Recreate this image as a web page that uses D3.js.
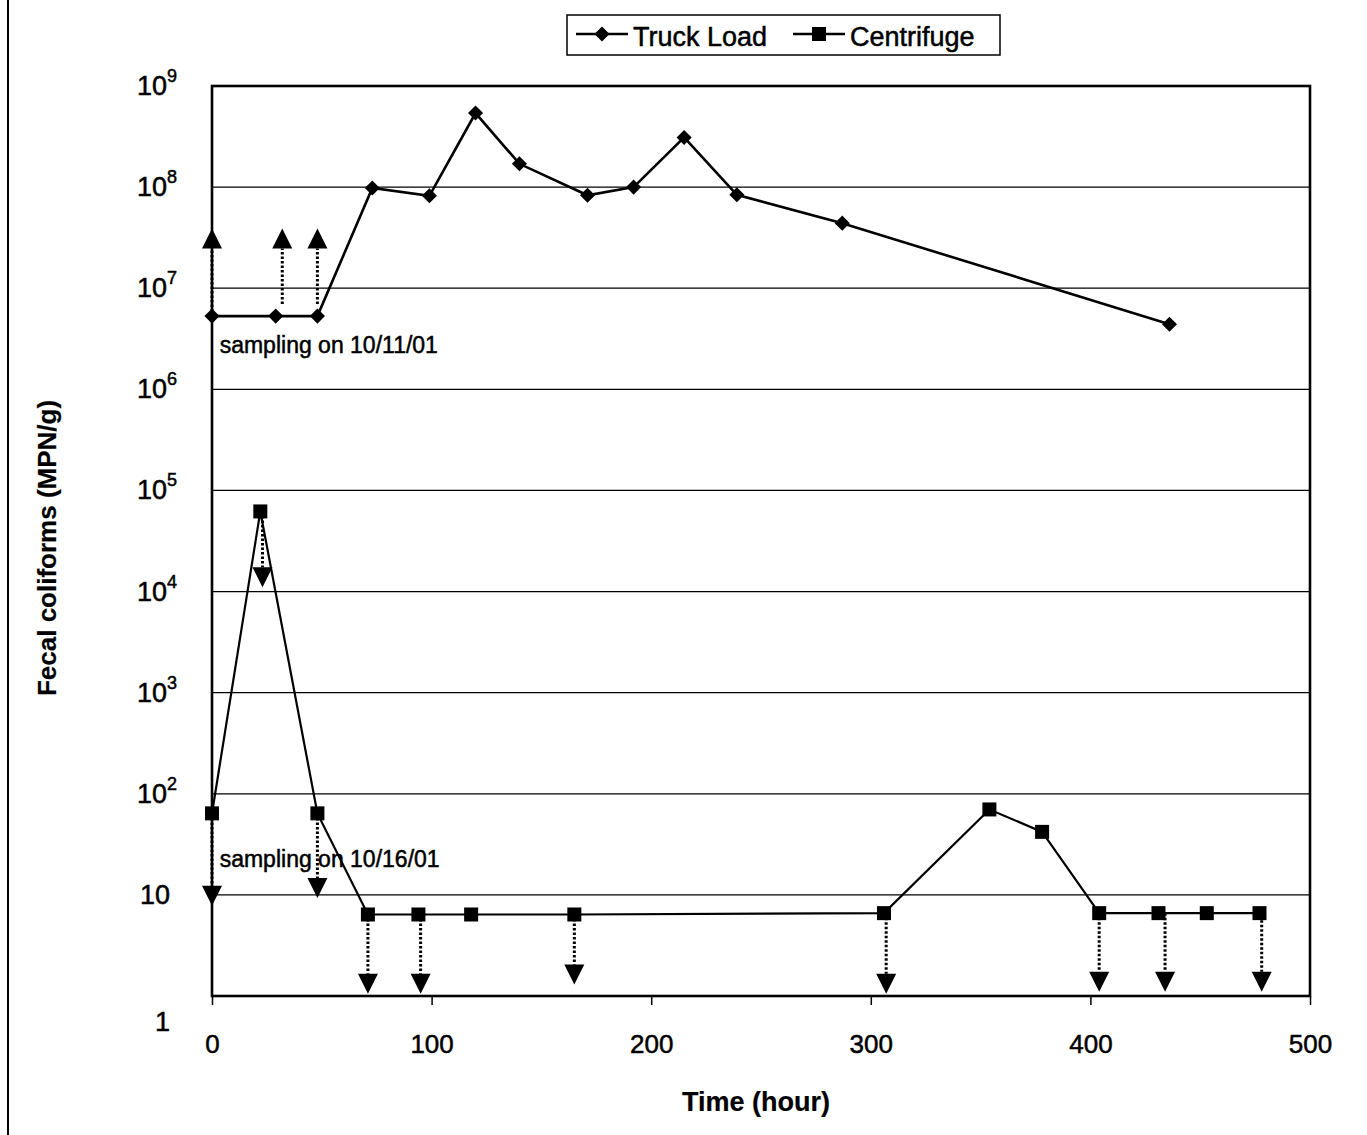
<!DOCTYPE html>
<html>
<head>
<meta charset="utf-8">
<script src="https://cdn.jsdelivr.net/npm/d3@7"></script>
<style>
  body { margin: 0; background: #fff; }
  text { font-family: "Liberation Sans", Arial, sans-serif; fill: #000; stroke: #000; stroke-width: 0.5; }
</style>
</head>
<body>
<svg id="chart" width="1367" height="1135"></svg>
<script>
// datos
const truckHours = [0, 29, 48, 73, 99, 120, 140, 171, 192, 215, 239, 287, 436];
const truckFC = [5.3e6, 5.3e6, 5.3e6, 9.8e7, 8.2e7, 5.4e8, 1.7e8, 8.3e7, 1.0e8, 3.1e8, 8.4e7, 4.4e7, 4.4e6];

const centHours = [0, 22, 48, 71, 94, 118, 165, 306, 354, 378, 404, 431, 453, 477];
const centFC = [64, 62000, 64, 6.4, 6.4, 6.4, 6.4, 6.6, 70, 42, 6.6, 6.6, 6.6, 6.6];

// flechas de límite (> o <)
const upHours = [0, 32, 48];
const upFrom = [5.3e6, 7.0e6, 7.0e6];
const upTo = [3.9e7, 3.9e7, 3.9e7];

const downHours = [0, 23, 48, 71, 95, 165, 307, 404, 434, 478];
const downFrom = [64, 62000, 64, 6.4, 6.4, 6.4, 6.6, 6.6, 6.6, 5.6];
const downTo = [7.8, 1.1e4, 9.3, 1.05, 1.05, 1.3, 1.05, 1.1, 1.1, 1.1];

const xTicks = [0, 100, 200, 300, 400, 500];
const yTicks = [1, 10, 1e2, 1e3, 1e4, 1e5, 1e6, 1e7, 1e8, 1e9];
const yTickBase = ["1", "10", "10", "10", "10", "10", "10", "10", "10", "10"];
const yTickExp = ["", "", "2", "3", "4", "5", "6", "7", "8", "9"];

const notes = ["sampling on 10/11/01", "sampling on 10/16/01"];
const noteHours = [3.5, 3.5];
const noteFC = [2.3e6, 19];

const seriesNames = ["Truck Load", "Centrifuge"];

// escalas
const svg = d3.select("#chart");
const x = d3.scaleLinear().domain([0, 500]).range([212, 1310]);
const y = d3.scaleLog().domain([1, 1e9]).range([996, 86]);

// borde de la página escaneada
svg.append("line")
    .attr("x1", 8).attr("x2", 8).attr("y1", 0).attr("y2", 1135)
    .attr("stroke", "#000").attr("stroke-width", 2);

// líneas de cuadrícula
svg.append("g").selectAll("line")
    .data(yTicks.slice(1, -1))
    .enter().append("line")
    .attr("x1", x(0)).attr("x2", x(500))
    .attr("y1", d => y(d)).attr("y2", d => y(d))
    .attr("stroke", "#000").attr("stroke-width", 1.2);

// eje x
const xAxis = svg.append("g")
    .attr("transform", `translate(0,${y(1)})`)
    .call(d3.axisBottom(x).tickValues(xTicks).tickSize(9).tickSizeOuter(0).tickPadding(30));
xAxis.select(".domain").remove();
xAxis.selectAll("line").attr("stroke", "#000").attr("stroke-width", 1.5);
xAxis.selectAll("text")
    .style("font-family", '"Liberation Sans", Arial, sans-serif')
    .attr("font-size", 26).attr("fill", "#000");

// etiquetas del eje y con exponente
const yl = svg.append("g").selectAll("text")
    .data(yTicks)
    .enter().append("text")
    .attr("text-anchor", "end")
    .attr("font-size", 27)
    .attr("x", (d, i) => yTickExp[i] ? 177 : 170)
    .attr("y", (d, i) => y(d) + (i === 0 ? 35 : 9));
yl.append("tspan").text((d, i) => yTickBase[i]);
yl.append("tspan")
    .attr("font-size", 18).attr("dy", -13)
    .text((d, i) => yTickExp[i]);

// marco del área de trazado
svg.append("rect")
    .attr("x", x(0)).attr("y", y(1e9))
    .attr("width", x(500) - x(0)).attr("height", y(1) - y(1e9))
    .attr("fill", "none").attr("stroke", "#000").attr("stroke-width", 2.6);

// flechas
function flecha(g, h, from, to) {
    const px = x(h), y0 = y(from), y1 = y(to);
    const dir = y1 < y0 ? -1 : 1;
    const base = y1 - dir * 20;
    g.append("line")
        .attr("x1", px).attr("x2", px).attr("y1", y0).attr("y2", base)
        .attr("stroke", "#000").attr("stroke-width", 3)
        .attr("stroke-dasharray", "2.5,2");
    g.append("path")
        .attr("d", `M${px},${y1}L${px - 10},${base}L${px + 10},${base}Z`)
        .attr("fill", "#000");
}
const gArrows = svg.append("g");
upHours.forEach((h, i) => flecha(gArrows, h, upFrom[i], upTo[i]));
downHours.forEach((h, i) => flecha(gArrows, h, downFrom[i], downTo[i]));

// series
const line = d3.line().x(d => x(d[0])).y(d => y(d[1]));
const truck = truckHours.map((h, i) => [h, truckFC[i]]);
const cent = centHours.map((h, i) => [h, centFC[i]]);

svg.append("path").datum(truck)
    .attr("d", line).attr("fill", "none")
    .attr("stroke", "#000").attr("stroke-width", 2.6);
svg.append("path").datum(cent)
    .attr("d", line).attr("fill", "none")
    .attr("stroke", "#000").attr("stroke-width", 2.2);

const diamond = d3.symbol().type(d3.symbolDiamond2).size(145);
svg.append("g").selectAll("path")
    .data(truck).enter().append("path")
    .attr("d", diamond)
    .attr("transform", d => `translate(${x(d[0])},${y(d[1])})`)
    .attr("fill", "#000");

svg.append("g").selectAll("rect")
    .data(cent).enter().append("rect")
    .attr("x", d => x(d[0]) - 7).attr("y", d => y(d[1]) - 7)
    .attr("width", 14).attr("height", 14)
    .attr("fill", "#000");

// anotaciones
svg.append("g").selectAll("text")
    .data(notes).enter().append("text")
    .attr("x", (d, i) => x(noteHours[i]))
    .attr("y", (d, i) => y(noteFC[i]))
    .attr("font-size", 23)
    .text(d => d);

// títulos de ejes
svg.append("text")
    .attr("x", 756).attr("y", 1111)
    .attr("text-anchor", "middle")
    .attr("font-size", 27).attr("font-weight", "bold")
    .style("stroke-width", 0.2)
    .text("Time (hour)");
svg.append("text")
    .attr("transform", "translate(56,548) rotate(-90)")
    .attr("text-anchor", "middle")
    .attr("font-size", 26).attr("font-weight", "bold")
    .style("stroke-width", 0.2)
    .text("Fecal coliforms (MPN/g)");

// leyenda
const leg = svg.append("g");
leg.append("rect")
    .attr("x", 567).attr("y", 15).attr("width", 433).attr("height", 40)
    .attr("fill", "#fff").attr("stroke", "#000").attr("stroke-width", 1.5);
const legX = [576, 793];
seriesNames.forEach((name, i) => {
    const lx = legX[i];
    leg.append("line")
        .attr("x1", lx).attr("x2", lx + 52).attr("y1", 34).attr("y2", 34)
        .attr("stroke", "#000").attr("stroke-width", 2.4);
    if (i === 0) {
        leg.append("path").attr("d", diamond)
            .attr("transform", `translate(${lx + 26},34)`)
            .attr("fill", "#000");
    } else {
        leg.append("rect")
            .attr("x", lx + 19).attr("y", 27).attr("width", 14).attr("height", 14)
            .attr("fill", "#000");
    }
    leg.append("text")
        .attr("x", lx + 57).attr("y", 46)
        .attr("font-size", 27)
        .text(name);
});
</script>
</body>
</html>
